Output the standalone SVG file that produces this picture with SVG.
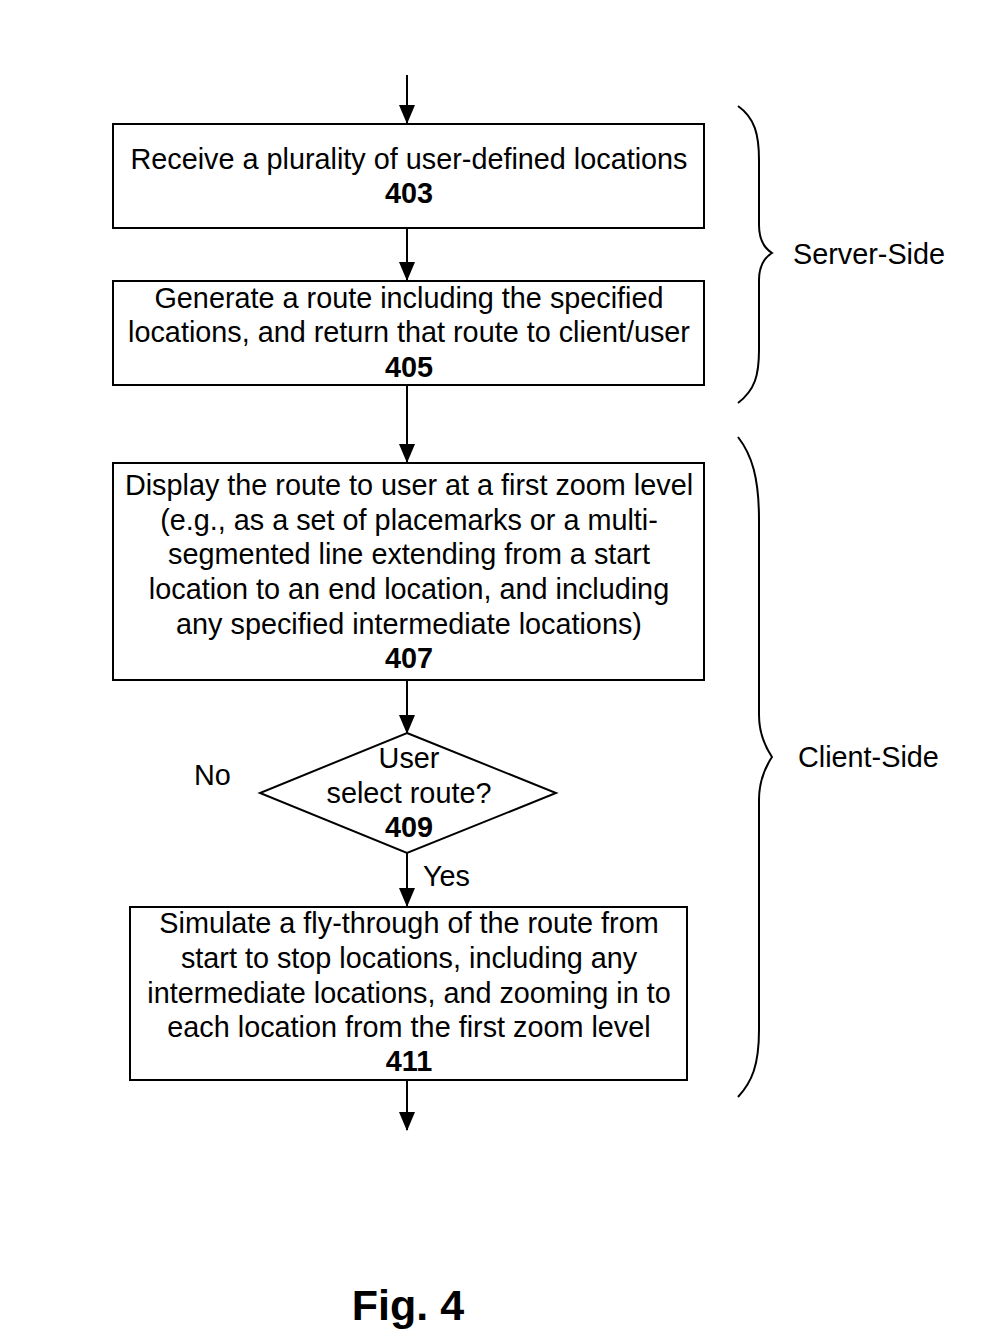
<svg xmlns="http://www.w3.org/2000/svg" width="985" height="1340" viewBox="0 0 985 1340">
<defs>
<marker id="ah" markerWidth="20" markerHeight="18" refX="18" refY="8" orient="auto" markerUnits="userSpaceOnUse">
<path d="M0,0 L19,8 L0,16 Z" fill="#000"/>
</marker>
<style>
.box{fill:#fff;stroke:#000;stroke-width:2}
.t{font-family:"Liberation Sans",Arial,sans-serif;font-size:28.8px;fill:#000;text-anchor:middle}
.b{font-weight:bold}
.l{text-anchor:start}
.c{stroke:#000;stroke-width:2;fill:none}
</style>
</defs>
<rect width="985" height="1340" fill="#fff"/>
<g id="connectors">
<line class="c" x1="407" y1="75" x2="407" y2="123" marker-end="url(#ah)"/>
<line class="c" x1="407" y1="228" x2="407" y2="280" marker-end="url(#ah)"/>
<line class="c" x1="407" y1="385" x2="407" y2="462" marker-end="url(#ah)"/>
<line class="c" x1="407" y1="680" x2="407" y2="733" marker-end="url(#ah)"/>
<line class="c" x1="407" y1="853" x2="407" y2="906" marker-end="url(#ah)"/>
<line class="c" x1="407" y1="1080" x2="407" y2="1130" marker-end="url(#ah)"/>
<text class="t l" x="194" y="785">No</text>
<text class="t l" x="423" y="886">Yes</text>
</g>
<g id="n403">
<rect class="box" x="113" y="124" width="591" height="104"/>
<text class="t" x="409" y="169">Receive a plurality of user-defined locations</text>
<text class="t b" x="409" y="203">403</text>
</g>
<g id="n405">
<rect class="box" x="113" y="281" width="591" height="104"/>
<text class="t" x="409" y="308">Generate a route including the specified</text>
<text class="t" x="409" y="342">locations, and return that route to client/user</text>
<text class="t b" x="409" y="377">405</text>
</g>
<g id="n407">
<rect class="box" x="113" y="463" width="591" height="217"/>
<text class="t" x="409" y="495">Display the route to user at a first zoom level</text>
<text class="t" x="409" y="530">(e.g., as a set of placemarks or a multi-</text>
<text class="t" x="409" y="564">segmented line extending from a start</text>
<text class="t" x="409" y="599">location to an end location, and including</text>
<text class="t" x="409" y="634">any specified intermediate locations)</text>
<text class="t b" x="409" y="668">407</text>
</g>
<g id="n409">
<polygon class="box" points="407,733 556,793 407,853 260,793"/>
<text class="t" x="409" y="768">User</text>
<text class="t" x="409" y="803">select route?</text>
<text class="t b" x="409" y="837">409</text>
</g>
<g id="n411">
<rect class="box" x="130" y="907" width="557" height="173"/>
<text class="t" x="409" y="933">Simulate a fly-through of the route from</text>
<text class="t" x="409" y="968">start to stop locations, including any</text>
<text class="t" x="409" y="1003">intermediate locations, and zooming in to</text>
<text class="t" x="409" y="1037">each location from the first zoom level</text>
<text class="t b" x="409" y="1071">411</text>
</g>
<g id="server-side">
<path class="c" d="M738,106 C755,118 759,135 759,160 L759,225 C759,240 764,248 772,253 C764,258 759,266 759,280 L759,350 C759,375 755,390 738,403"/>
<text class="t l" x="793" y="264">Server-Side</text>
</g>
<g id="client-side">
<path class="c" d="M738,437 C752,455 759,478 759,520 L759,715 C759,735 766,748 772,757 C766,766 759,780 759,800 L759,1030 C759,1065 752,1082 738,1097"/>
<text class="t l" x="798" y="767">Client-Side</text>
</g>
<text class="t b" x="408" y="1320" style="font-size:43px">Fig. 4</text>
</svg>
